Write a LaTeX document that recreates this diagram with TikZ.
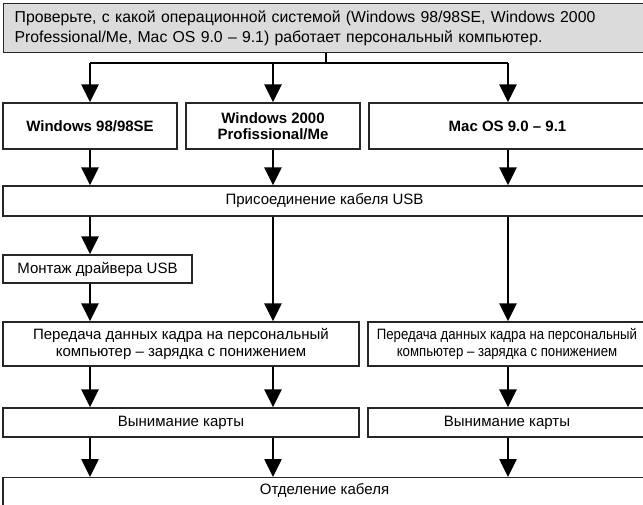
\documentclass[tikz,border=0pt]{standalone}
\usepackage{fontspec}
\setmainfont{Liberation Sans}
\newfontfamily\narrowsans[FakeStretch=0.88]{Liberation Sans}
\usetikzlibrary{arrows.meta}
\begin{document}
\begin{tikzpicture}[x=1pt,y=-1pt,
  box/.style={draw=black!85, line width=1.3pt, fill=white, inner sep=0pt, align=center,
    font=\fontsize{15}{17}\selectfont},
  osbox/.style={box, font=\fontsize{15}{16}\selectfont\bfseries},
  topbox/.style={box, fill=black!14, align=left, font=\fontsize{15.8}{19.5}\selectfont},
  arr/.style={line width=2.6pt, -{Triangle[width=17pt,length=18pt]}},
  ln/.style={line width=2.6pt}]
\useasboundingbox (0,0) rectangle (643,504);
% top
\node[topbox, anchor=north west, text width=621pt, inner xsep=11pt, minimum height=49pt] (top) at (3,3)
  {Проверьте, с какой операционной системой (Windows 98/98SE, Windows 2000\\Professional/Me, Mac OS 9.0 – 9.1) работает персональный компьютер.};
\coordinate (j) at (326,63);
\coordinate (jl) at (90,63);
\coordinate (jm) at (273,63);
\coordinate (jr) at (508,63);
% OS boxes
\node[osbox, minimum width=174pt, minimum height=46pt] (os1) at (90,126) {Windows 98/98SE};
\node[osbox, minimum width=174pt, minimum height=46pt] (os2) at (273,126) {Windows 2000\\Profissional/Me};
\node[osbox, minimum width=277pt, minimum height=46pt] (os3) at (507.5,126) {Mac OS 9.0 – 9.1};
% USB
\node[box, minimum width=643pt, minimum height=30pt] (usb) at (324.5,201) {Присоединение кабеля USB};
% Montage
\node[box, minimum width=189pt, minimum height=28pt] (drv) at (97.5,269) {Монтаж драйвера USB};
% Transfer
\node[box, minimum width=356pt, minimum height=44pt] (tr1) at (181,344) {Передача данных кадра на персональный\\компьютер – зарядка с понижением};
\node[box, minimum width=278pt, minimum height=44pt, font=\fontsize{15}{17}\narrowsans] (tr2) at (507,344) {Передача данных кадра на персональный\\компьютер – зарядка с понижением};
% Remove
\node[box, minimum width=356pt, minimum height=29pt] (rm1) at (181,422.5) {Вынимание карты};
\node[box, minimum width=278pt, minimum height=29pt] (rm2) at (507,422.5) {Вынимание карты};
% Final
\node[box, anchor=north, minimum width=643pt, inner sep=0pt, text height=17pt, text depth=25pt] (fin) at (324.5,477) {Отделение кабеля};
% connectors
\draw[ln] (top.south -| j) -- (j);
\draw[ln] (jl) -- (jr);
\draw[arr] (jl) -- (jl |- os1.north);
\draw[arr] (jm) -- (jm |- os2.north);
\draw[arr] (jr) -- (jr |- os3.north);
\draw[arr] (os1.south -| jl) -- (usb.north -| jl);
\draw[arr] (os2.south -| jm) -- (usb.north -| jm);
\draw[arr] (os3.south -| jr) -- (usb.north -| jr);
\draw[arr] (usb.south -| jl) -- (drv.north -| jl);
\draw[arr] (drv.south -| jl) -- (tr1.north -| jl);
\draw[arr] (usb.south -| jm) -- (tr1.north -| jm);
\draw[arr] (usb.south -| jr) -- (tr2.north -| jr);
\draw[arr] (tr1.south -| jl) -- (rm1.north -| jl);
\draw[arr] (tr1.south -| jm) -- (rm1.north -| jm);
\draw[arr] (tr2.south -| jr) -- (rm2.north -| jr);
\draw[arr] (rm1.south -| jl) -- (fin.north -| jl);
\draw[arr] (rm1.south -| jm) -- (fin.north -| jm);
\draw[arr] (rm2.south -| jr) -- (fin.north -| jr);
\end{tikzpicture}
\end{document}
